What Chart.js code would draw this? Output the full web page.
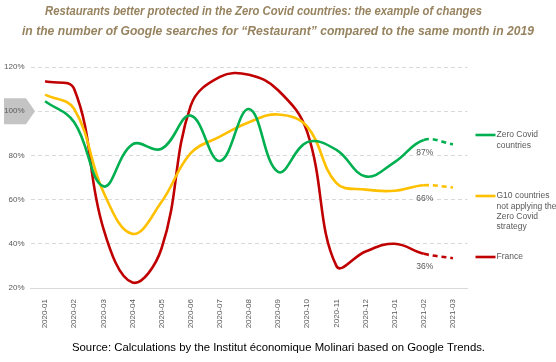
<!doctype html>
<html lang="en">
  <head>
    <meta charset="utf-8">
    <title>Restaurants better protected in the Zero Covid countries</title>
    <style>
      * {
        margin: 0;
        padding: 0;
      }
      body {
        background: #ffffff;
      }
      .chartBox {
        width: 556px;
        height: 362px;
      }
    </style>
  </head>
  <body>
    <div class="chartBox">
      <canvas id="myChart" width="556" height="362"></canvas>
    </div>
    <script src="https://cdn.jsdelivr.net/npm/chart.js"></script>
    <script>
    // data
    const months = ['2020-01', '2020-02', '2020-03', '2020-04', '2020-05', '2020-06', '2020-07', '2020-08',
                    '2020-09', '2020-10', '2020-11', '2020-12', '2021-01', '2021-02', '2021-03'];
    const zeroCovid = [104.5, 95, 66, 85, 83, 98, 77.5, 101, 72.5, 86, 82.5, 70.5, 77, 87, 85];
    const g10 = [107.5, 101, 63.5, 44.5, 59, 81, 88.5, 95, 98.5, 93, 67.5, 64.5, 64, 66.5, 65.5];
    const france = [113.5, 110, 47, 22.5, 38, 102.5, 115.5, 116.5, 109.5, 90.5, 30, 36.5, 40, 35.5, 33.5];
    const endLabels = ['87%', '66%', '36%'];
    const legendNames = [['Zero Covid', 'countries'], ['G10 countries', 'not applying the', 'Zero Covid', 'strategy'], ['France']];
    const yTicks = [20, 40, 60, 80, 100, 120];

    const titleLines = ['Restaurants better protected in the Zero Covid countries: the example of changes',
                        'in the number of Google searches for \u201CRestaurant\u201D compared to the same month in 2019'];
    const sourceText = 'Source: Calculations by the Institut \u00E9conomique Molinari based on Google Trends.';

    const colours = ['#00b050', '#ffc000', '#c00000'];
    const greyText = '#595959';
    const baseFont = '"Liberation Sans", Arial, sans-serif';

    const lastDashed = {
      borderDash: (ctx) => ctx.p0DataIndex === months.length - 2 ? [5, 4] : undefined
    };

    function makeSet(label, values, colour) {
      return {
        label: label,
        data: values,
        borderColor: colour,
        backgroundColor: colour,
        borderWidth: 2.6,
        pointRadius: 0,
        tension: 0.4,
        fill: false,
        segment: lastDashed
      };
    }

    const data = {
      labels: months,
      datasets: [
        makeSet('Zero Covid countries', zeroCovid, colours[0]),
        makeSet('G10 countries not applying the Zero Covid strategy', g10, colours[1]),
        makeSet('France', france, colours[2])
      ]
    };

    // draw a text squeezed sideways to a given width (the original uses a narrow font)
    function squeezedText(ctx, text, cx, cy, font, targetWidth) {
      ctx.font = font;
      const sx = targetWidth / ctx.measureText(text).width;
      ctx.save();
      ctx.translate(cx, cy);
      ctx.scale(sx, 1);
      ctx.fillText(text, 0, 0);
      ctx.restore();
    }

    // title, source, arrow, labels, legend
    const decorations = {
      id: 'decorations',
      beforeDatasetsDraw(chart) {
        const { ctx, scales: { y } } = chart;
        // grey arrow behind the 100% tick
        const yc = y.getPixelForValue(100);
        ctx.save();
        ctx.fillStyle = '#c4c4c4';
        ctx.beginPath();
        ctx.moveTo(4, yc - 13);
        ctx.lineTo(26, yc - 13);
        ctx.lineTo(35, yc);
        ctx.lineTo(26, yc + 13);
        ctx.lineTo(4, yc + 13);
        ctx.closePath();
        ctx.fill();
        ctx.fillStyle = greyText;
        ctx.font = '8px ' + baseFont;
        ctx.textAlign = 'right';
        ctx.textBaseline = 'middle';
        ctx.fillText('100%', 24.5, yc);
        ctx.restore();
      },
      afterDraw(chart) {
        const { ctx, chartArea: { right }, scales: { x, y } } = chart;
        ctx.save();
        ctx.textAlign = 'center';
        ctx.textBaseline = 'middle';

        ctx.fillStyle = '#97835f';
        squeezedText(ctx, titleLines[0], 263.5, 12, 'italic bold 12.5px ' + baseFont, 437);
        squeezedText(ctx, titleLines[1], 278, 32, 'italic bold 12.5px ' + baseFont, 512);

        ctx.fillStyle = '#000000';
        squeezedText(ctx, sourceText, 278.5, 348, '11.5px ' + baseFont, 413);

        // end value labels
        ctx.fillStyle = greyText;
        ctx.font = '8.5px ' + baseFont;
        const last = months.length - 2;
        chart.data.datasets.forEach((ds, i) => {
          const px = x.getPixelForValue(last);
          const py = y.getPixelForValue(ds.data[last]);
          ctx.fillText(endLabels[i], px + 1, py + 13);
        });

        // legend
        const legendY = [135, 196, 257];
        ctx.textAlign = 'left';
        ctx.font = '8.5px ' + baseFont;
        legendNames.forEach((lines, i) => {
          ctx.strokeStyle = colours[i];
          ctx.lineWidth = 2.6;
          ctx.beginPath();
          ctx.moveTo(right + 8, legendY[i]);
          ctx.lineTo(right + 28, legendY[i]);
          ctx.stroke();
          lines.forEach((t, j) => {
            ctx.fillText(t, right + 29, legendY[i] + j * 10.3);
          });
        });
        ctx.restore();
      }
    };

    const config = {
      type: 'line',
      data,
      options: {
        responsive: false,
        animation: false,
        layout: {
          padding: { left: 0, right: 88.5, top: 67, bottom: 24 }
        },
        scales: {
          x: {
            offset: true,
            afterFit: (s) => { s.height = 50; },
            grid: { display: false },
            border: { display: true, color: '#d9d9d9', width: 1 },
            ticks: {
              minRotation: 90,
              maxRotation: 90,
              autoSkip: false,
              padding: 3,
              color: greyText,
              font: { size: 8, family: baseFont }
            }
          },
          y: {
            min: 20,
            max: 120,
            afterFit: (s) => { s.width = 30.5; },
            afterBuildTicks: (s) => { s.ticks = yTicks.map(v => ({ value: v })); },
            border: { display: false, dash: [4, 3] },
            grid: { color: '#d9d9d9', drawTicks: false, lineWidth: 1 },
            ticks: {
              padding: 6,
              color: greyText,
              font: { size: 8, family: baseFont },
              callback: (v) => v === 100 ? '' : v + '%'
            }
          }
        },
        plugins: {
          legend: { display: false },
          tooltip: { enabled: false }
        }
      },
      plugins: [decorations]
    };

    const myChart = new Chart(document.getElementById('myChart'), config);
    </script>
  </body>
</html>
